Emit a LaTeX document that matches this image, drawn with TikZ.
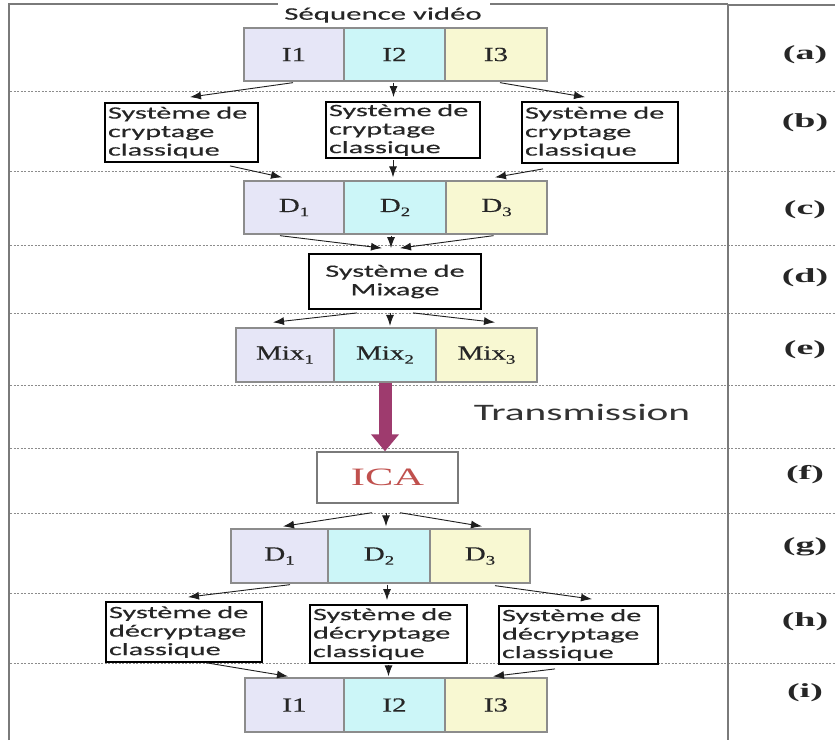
\documentclass[tikz,border=0pt]{standalone}
\usepackage{fontspec}
\usetikzlibrary{arrows.meta,calc}

% Fonts: serif for the frame cells, wide sans for the processing blocks
\newfontfamily\cellfont[FakeStretch=1.45,FakeBold=0.4]{Liberation Serif}
\newfontfamily\icafont[FakeStretch=1.7]{Liberation Serif}
\newfontfamily\tagfont[FakeStretch=1.9]{Liberation Serif}
\newfontfamily\sysfont[FakeStretch=1.75,FakeBold=0.3]{Carlito}
\newfontfamily\txfont[FakeStretch=1.75]{Carlito}

\definecolor{lav}{HTML}{E6E6F7}
\definecolor{cyanfill}{HTML}{CCF6F8}
\definecolor{yelfill}{HTML}{F8F8D2}
\definecolor{cellline}{HTML}{8C8C8C}
\definecolor{framegray}{HTML}{7A7A7A}
\definecolor{transcol}{HTML}{9E3B6E}
\definecolor{icared}{HTML}{C0504D}
\definecolor{arrowcol}{HTML}{1E1E1E}

\newcommand\cellsub[1]{\raisebox{-0.45ex}{\fontsize{13}{13}\selectfont #1}}

\tikzset{
  cell/.style={draw=cellline, line width=1.3pt, inner sep=0pt,
    font=\cellfont\fontsize{20}{22}\selectfont, text=black!85},
  cellA/.style={cell, fill=lav},
  cellB/.style={cell, fill=cyanfill},
  cellC/.style={cell, fill=yelfill},
  sysbox/.style={draw=black, line width=1.8pt, fill=white, inner sep=2pt,
    align=left, anchor=center, text=black!85,
    font=\sysfont\fontsize{17.3}{18.5}\selectfont},
  conn/.style={draw=arrowcol, line width=0.9pt,
    -{Latex[length=11pt,width=8pt]}},
  rowline/.style={draw=black!45, line width=0.7pt, dash pattern=on 2pt off 1.5pt},
  frameline/.style={draw=framegray, line width=2pt},
  rowtag/.style={font=\tagfont\bfseries\fontsize{20}{22}\selectfont, text=black!85}
}

\begin{document}
\begin{tikzpicture}[x=1pt,y=-1pt]
\useasboundingbox (0,0) rectangle (835,740);
\fill[white] (0,0) rectangle (835,740);

% row separators
\foreach \yy in {91,171,245,313,385,448,513,593,663}
  \draw[rowline] (10,\yy) -- (835,\yy);

% frame
\draw[frameline] (9,740) -- (9,4) -- (278,4);
\draw[frameline] (490,4) -- (728,4);
\draw[frameline] (728,5) -- (835,5);
\draw[frameline] (728,4) -- (728,740);

% (a) video sequence
\node[font=\sysfont\fontsize{17.6}{19}\selectfont, text=black!85] (seq) at (383,15) {Séquence vidéo};
\node[cellA, minimum width=100, minimum height=53] (I1) at (294,54.5) {I1};
\node[cellB, minimum width=101, minimum height=53] (I2) at (394.5,54.5) {I2};
\node[cellC, minimum width=102, minimum height=53] (I3) at (496,54.5) {I3};

% (b) classical encryption
\node[sysbox, minimum width=153, minimum height=59, text width=147] (sL) at (181.5,132.5)
  {Système de\\ cryptage\\classique};
\node[sysbox, minimum width=154, minimum height=56, text width=148] (sM) at (403,130)
  {Système de\\cryptage\\classique};
\node[sysbox, minimum width=156, minimum height=61, text width=150] (sR) at (600,132.5)
  {Système de\\cryptage\\classique};

% (c) encrypted frames
\node[cellA, minimum width=100, minimum height=53] (D1) at (294,207.5) {D\cellsub{1}};
\node[cellB, minimum width=102, minimum height=53] (D2) at (395,207.5) {D\cellsub{2}};
\node[cellC, minimum width=101, minimum height=53] (D3) at (496.5,207.5) {D\cellsub{3}};

% (d) mixing
\node[sysbox, minimum width=172, minimum height=55, align=center, text width=166] (mix) at (395,281.5)
  {Système de\\Mixage};

% (e) mixed frames
\node[cellA, minimum width=98, minimum height=54] (M1) at (285,355) {Mix\cellsub{1}};
\node[cellB, minimum width=102, minimum height=54] (M2) at (385,355) {Mix\cellsub{2}};
\node[cellC, minimum width=101, minimum height=54] (M3) at (486.5,355) {Mix\cellsub{3}};

% transmission
\node[font=\txfont\fontsize{23.6}{25}\selectfont, text=black!80] (tx) at (582,412) {Transmission};

% (f) ICA
\node[draw=framegray, line width=1.4pt, fill=white, minimum width=141, minimum height=51,
  font=\icafont\fontsize{25}{27}\selectfont, text=icared] (ica) at (387.5,477.5) {ICA};
\draw[draw=transcol, line width=13pt, -{Triangle[length=17pt,width=27pt]}]
  (M2.south) -- (M2.south |- ica.north);

% (g) separated frames
\node[cellA, minimum width=97, minimum height=54] (G1) at (279.5,556) {D\cellsub{1}};
\node[cellB, minimum width=102, minimum height=54] (G2) at (379,556) {D\cellsub{2}};
\node[cellC, minimum width=100, minimum height=54] (G3) at (480,556) {D\cellsub{3}};

% (h) classical decryption
\node[sysbox, minimum width=156, minimum height=60, text width=150] (hL) at (184,632)
  {Système de\\décryptage\\classique};
\node[sysbox, minimum width=157, minimum height=58, text width=151] (hM) at (388.5,634)
  {Système de\\décryptage\\classique};
\node[sysbox, minimum width=159, minimum height=58, text width=153] (hR) at (578.5,635)
  {Système de\\décryptage\\classique};

% (i) recovered frames
\node[cellA, minimum width=99, minimum height=54] (J1) at (294.5,705) {I1};
\node[cellB, minimum width=101, minimum height=54] (J2) at (394.5,705) {I2};
\node[cellC, minimum width=102, minimum height=54] (J3) at (496,705) {I3};

% row tags
\node[rowtag] (ta) at (805,55) {(a)};
\node[rowtag] (tb) at (805,123) {(b)};
\node[rowtag] (tc) at (805,210) {(c)};
\node[rowtag] (td) at (805,278) {(d)};
\node[rowtag] (te) at (805,350) {(e)};
\node[rowtag] (tf) at (805,475) {(f)};
\node[rowtag] (tg) at (805,547) {(g)};
\node[rowtag] (th) at (805,622) {(h)};
\node[rowtag] (ti) at (805,693) {(i)};

% a -> b
\draw[conn] ($(I1.south)+(-1,1)$) -- ($(sL.north)+(8.5,-5)$);
\draw[conn] ($(I2.south)+(-1,1)$) -- ($(I2.south |- sM.north)+(-1,-4)$);
\draw[conn] ($(I3.south)+(4,1)$) -- ($(sR.north)+(-15,-4)$);
% b -> c
\draw[conn] ($(sL.south)+(48.5,3)$) -- ($(D1.north)+(-12,-3)$);
\draw[conn] ($(D2.north |- sM.south)+(-2,1)$) -- ($(D2.north)+(-2,-3)$);
\draw[conn] ($(sR.south)+(-57,5)$) -- ($(D3.north)+(-1.5,-3)$);
% c -> d
\draw[conn] ($(D1.south)+(-14,1)$) -- ($(mix.north)+(-13,-5)$);
\draw[conn] ($(D2.south)+(-4,1)$) -- ($(mix.north)+(-4,-5)$);
\draw[conn] ($(D3.south)+(-3,1)$) -- ($(mix.north)+(5,-5)$);
% d -> e
\draw[conn] ($(mix.south)+(-38,3)$) -- ($(M1.north)+(-12,-5)$);
\draw[conn] ($(mix.south)+(-5,3)$) -- ($(mix.south)+(-5,16)$);
\draw[conn] ($(mix.south)+(18,3)$) -- ($(M3.north)+(8.5,-5)$);
% f -> g
\draw[conn] ($(ica.south)+(-15.5,9)$) -- ($(G1.north)+(3.5,-2)$);
\draw[conn] ($(ica.south)+(-1.5,9)$) -- ($(G2.north)+(7,-2)$);
\draw[conn] ($(ica.south)+(12.5,9)$) -- ($(G3.north)+(2,-2)$);
% g -> h
\draw[conn] ($(G1.south)+(10.5,1)$) -- ($(hL.north)+(4,-4)$);
\draw[conn] ($(G2.south)+(8,1)$) -- ($(hM.north)+(-1.5,-4)$);
\draw[conn] ($(G3.south)+(15,2)$) -- ($(hR.north)+(13.5,-6)$);
% h -> i
\draw[conn] ($(hL.south)+(23,0)$) -- ($(J1.north)+(-6.5,-1)$);
\draw[conn] ($(hM.south)+(0,1)$) -- ($(J2.north)+(-6,-1)$);
\draw[conn] ($(hR.south)+(-23.5,4)$) -- ($(J3.north)+(-3,-1)$);
\end{tikzpicture}
\end{document}
